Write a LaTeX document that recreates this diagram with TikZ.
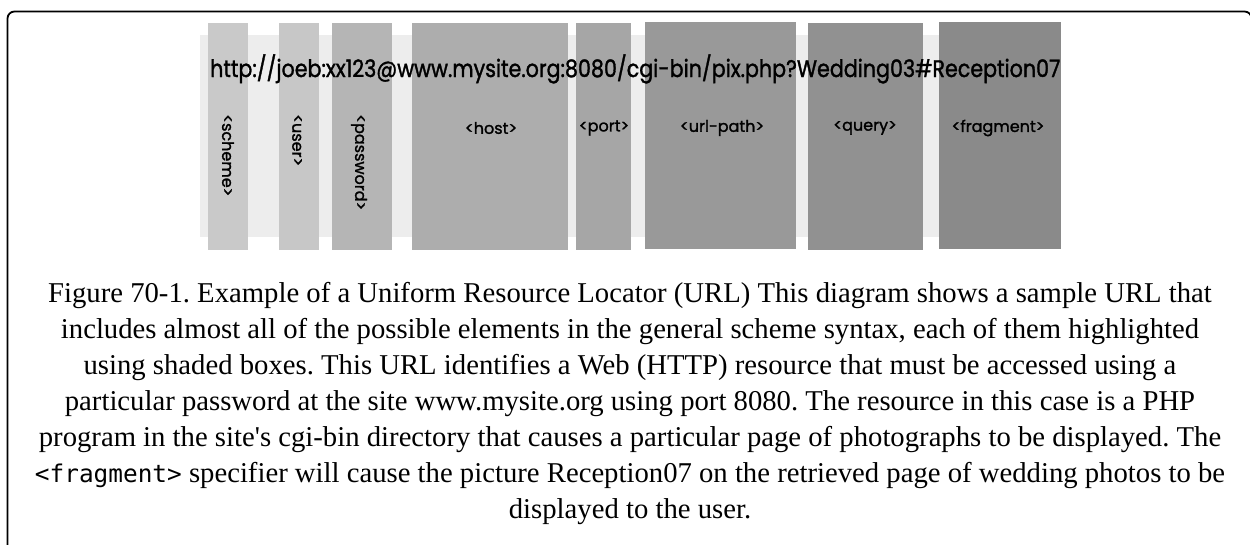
\documentclass[tikz,border=0pt]{standalone}
\usepackage{fontspec}
\newfontfamily\capfont{Liberation Serif}
\newfontfamily\codefont{DejaVu Sans Mono}
\newfontfamily\urlfont[FakeBold=1.5]{Poppins}
\usetikzlibrary{positioning}

\tikzset{
  field/.style={font=\urlfont\fontsize{16}{18}\selectfont, inner sep=0pt},
  vfield/.style={field, rotate=-90, anchor=west},
}

\begin{document}
\begin{tikzpicture}[x=1pt,y=-1pt]

\clip (0,0) rectangle (1250,544);

% frame
\draw[line width=1.8pt,rounded corners=7pt] (7.5,560) -- (7.5,11.5) -- (1251.5,11.5) -- (1251.5,560);

% light band behind the fields
\fill[black!7] (200,35) rectangle (1060,237);

% shaded boxes
\fill[black!21] (208,23) rectangle (248,250);
\fill[black!22] (279,23) rectangle (319,250);
\fill[black!29] (332,23) rectangle (392,250);
\fill[black!32] (412,23) rectangle (568,250);
\fill[black!35] (576,23) rectangle (631,250);
\fill[black!40] (645,22) rectangle (796,249);
\fill[black!43] (808,23) rectangle (923,250);
\fill[black!46] (939,22) rectangle (1061,249);

% the url
\node[anchor=base west, inner sep=0pt, font=\urlfont\fontsize{24}{28}\selectfont] (url) at (210,77)
  {\scalebox{0.86}[1]{http://joeb:xx123@www.mysite.org:8080/cgi-bin/pix.php?Wedding03\#Reception07}};

% field names
\node[vfield] (scheme) at (228,114) {<scheme>};
\node[vfield] (user) at (297,114) {<user>};
\node[vfield] (password) at (359,114) {<password>};
\node[field] (host) at (491,128) {<host>};
\node[field] (port) at (604,128) {<port>};
\node[field] (urlpath) at (722,128) {<url-path>};
\node[field] (query) at (865,128) {<query>};
\node[field] (fragment) at (998,128) {<fragment>};

% caption
\node[anchor=north, align=center, inner sep=0pt, font=\capfont\fontsize{28.7}{36}\selectfont\frenchspacing] (caption) at (630,282.5)
  {Figure 70-1. Example of a Uniform Resource Locator (URL) This diagram shows a sample URL that\\
   includes almost all of the possible elements in the general scheme syntax, each of them highlighted\\
   using shaded boxes. This URL identifies a Web (HTTP) resource that must be accessed using a\\
   particular password at the site www.mysite.org using port 8080. The resource in this case is a PHP\\
   program in the site's cgi-bin directory that causes a particular page of photographs to be displayed. The\\
   {\codefont\fontsize{24.4}{36}\selectfont <fragment>} specifier will cause the picture Reception07 on the retrieved page of wedding photos to be\\
   displayed to the user.};

\end{tikzpicture}
\end{document}
